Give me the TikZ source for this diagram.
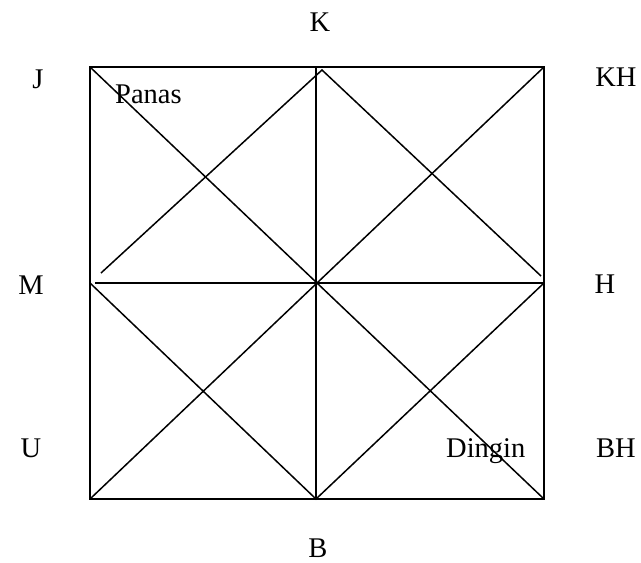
\documentclass[tikz,border=0pt]{standalone}
\usepackage{fontspec}
\setmainfont{Liberation Serif}
\begin{document}
\begin{tikzpicture}[x=1pt,y=-1pt,
  ln/.style={line width=1.5pt,line cap=butt},
  lbl/.style={font=\fontsize{28.5}{30}\selectfont,inner sep=0pt},
  txt/.style={font=\fontsize{28.5}{30}\selectfont,inner sep=0pt,anchor=base west}]
\useasboundingbox (0,0) rectangle (641,563);
% grid points
\coordinate (pJ) at (90,67);
\coordinate (pK) at (316,67);
\coordinate (pKH) at (544,67);
\coordinate (pM) at (90,283);
\coordinate (pMh) at (95,283);
\coordinate (pC) at (316,283);
\coordinate (pH) at (544,283);
\coordinate (pU) at (90,499);
\coordinate (pB) at (316,499);
\coordinate (pBH) at (544,499);
% upper diamond (slightly inset)
\coordinate (dL) at (101,273);
\coordinate (dT) at (322,70);
\coordinate (dR) at (541,276);
% outer square
\draw[ln] (pJ) rectangle (pBH);
% middle lines
\draw[ln] (pK) -- (pB);
\draw[ln] (pMh) -- (pH);
% main diagonals
\draw[ln] (pJ) -- (pBH);
\draw[ln] (pKH) -- (pU);
% upper diamond
\draw[ln] (dL) -- (dT) -- (dR);
% lower diamond
\draw[ln] (pM) -- (pB) -- (pH);
% labels
\node[lbl] (K) at (320,22) {K};
\node[lbl] (J) at (38,79) {J};
\node[lbl] (KH) at (616,77) {KH};
\node[lbl] (M) at (31,285) {M};
\node[lbl] (H) at (605,284) {H};
\node[lbl] (U) at (31,448) {U};
\node[lbl] (BH) at (616,448) {BH};
\node[lbl] (B) at (318,548) {B};
\node[txt] (panas) at (115,103) {Panas};
\node[txt] (dingin) at (446,457) {Dingin};
\end{tikzpicture}
\end{document}
